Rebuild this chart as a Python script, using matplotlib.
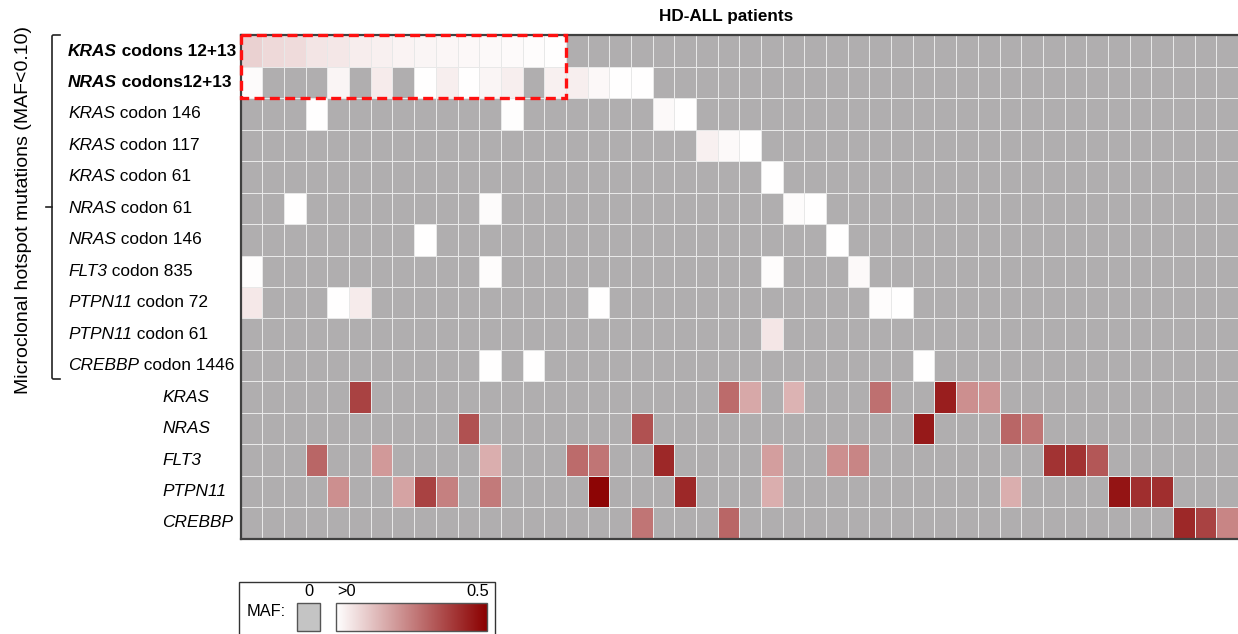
import numpy as np
import matplotlib
matplotlib.use("Agg")
import matplotlib.pyplot as plt
from matplotlib.colors import LinearSegmentedColormap
from matplotlib.patches import Rectangle
from matplotlib.transforms import blended_transform_factory, IdentityTransform

plt.rcParams['font.family'] = ['Liberation Sans', 'DejaVu Sans']

# row labels: gene (italic), rest of label, bold?
genes = ['KRAS', 'NRAS', 'KRAS', 'KRAS', 'KRAS', 'NRAS', 'NRAS', 'FLT3',
         'PTPN11', 'PTPN11', 'CREBBP', 'KRAS', 'NRAS', 'FLT3', 'PTPN11', 'CREBBP']
suffixes = [' codons 12+13', ' codons12+13', ' codon 146', ' codon 117', ' codon 61',
            ' codon 61', ' codon 146', ' codon 835', ' codon 72', ' codon 61',
            ' codon 1446', '', '', '', '', '']
bold_rows = [0, 1]
n_patients = 46

# MAF per row: {patient index: MAF}, everything else is 0 (not detected)
maf_rows = [
    {0: .09, 1: .075, 2: .072, 3: .052, 4: .047, 5: .036, 6: .03, 7: .025, 8: .02,
     9: .018, 10: .015, 11: .012, 12: .01, 13: .006, 14: .003},
    {0: .008, 4: .02, 6: .04, 8: .002, 9: .035, 10: .002, 11: .02, 12: .035,
     14: .03, 15: .035, 16: .015, 17: .003, 18: .002},
    {3: .002, 12: .004, 19: .012, 20: .002},
    {21: .03, 22: .012, 23: .003},
    {24: .003},
    {2: .002, 11: .008, 25: .008, 26: .002},
    {8: .003, 27: .002},
    {0: .004, 11: .006, 24: .006, 28: .012},
    {0: .045, 4: .002, 5: .04, 16: .002, 29: .006, 30: .002},
    {24: .05},
    {11: .003, 13: .002, 31: .002},
    {5: .37, 22: .29, 23: .17, 25: .15, 29: .28, 32: .44, 33: .22, 34: .21},
    {10: .34, 18: .34, 31: .45, 35: .3, 36: .27},
    {3: .3, 6: .2, 11: .16, 15: .29, 16: .27, 19: .42, 24: .19, 27: .22, 28: .24,
     37: .4, 38: .4, 39: .33},
    {4: .22, 7: .18, 8: .37, 9: .25, 11: .26, 16: .49, 20: .42, 24: .16, 35: .16,
     40: .46, 41: .41, 42: .41},
    {18: .27, 22: .3, 43: .42, 44: .37, 45: .24},
]

maf = np.zeros((len(genes), n_patients))
for i, row in enumerate(maf_rows):
    for j, v in row.items():
        maf[i, j] = v

W, H = 1238, 634
fig = plt.figure(figsize=(W / 100, H / 100), dpi=100)

cmap = LinearSegmentedColormap.from_list('maf', ['#ffffff', '#8b0000'])
cmap.set_under('#b0aeaf')

left, top, bottom = 240.7, 35.3, 538.7
ax = fig.add_axes([left / W, 1 - bottom / H, 1 - left / W, (bottom - top) / H])
ax.pcolormesh(maf, cmap=cmap, vmin=1e-6, vmax=0.5, edgecolors='#e8e8e8', linewidth=0.7)
ax.set_xlim(0, n_patients)
ax.set_ylim(len(genes), 0)
ax.set_xticks([])
ax.set_yticks([])
for s in ['top', 'left', 'bottom']:
    ax.spines[s].set_color('#404040')
    ax.spines[s].set_linewidth(1.6)
ax.spines['right'].set_visible(False)

# dashed box around the codon 12+13 rows
ax.add_patch(Rectangle((0, 0), 15, 2, fill=False, edgecolor='#ff1010', lw=2.4,
                       linestyle=(0, (3, 1.6)), clip_on=False, zorder=5))

# overlay in pixel coordinates for labels, bracket and legend
ov = fig.add_axes([0, 0, 1, 1], zorder=-1)
ov.set_xlim(0, W)
ov.set_ylim(H, 0)
ov.axis('off')

ov.text(726, 17, 'HD-ALL patients', ha='center', va='center', fontsize=12.3,
        fontweight='bold')

renderer = fig.canvas.get_renderer()
tr = blended_transform_factory(ov.transData, ax.transData)
for i, (g, suf) in enumerate(zip(genes, suffixes)):
    y = i + 0.5
    weight = 'bold' if i in bold_rows else 'normal'
    x0 = 68 if suf else 162
    t = ax.text(x0, y, g, transform=tr, ha='left', va='center', fontsize=12.4,
                style='italic', fontweight=weight)
    if suf:
        bb = t.get_window_extent(renderer)
        ov.text(bb.x1, y, suf,
                transform=blended_transform_factory(IdentityTransform(), ax.transData),
                ha='left', va='center', fontsize=12.4, fontweight=weight)

# bracket for microclonal rows
ov.plot([60, 53, 52, 52, 53, 60], [35, 35, 36, 378, 379, 379], color='#222222', lw=1.2)
ov.plot([46, 52], [207, 207], color='#222222', lw=1.2)
ov.text(24, 210, 'Microclonal hotspot mutations (MAF<0.10)', rotation=90,
        ha='center', va='center', fontsize=14)

# legend
ov.add_patch(Rectangle((239, 582), 256, 60, facecolor='white', edgecolor='#333333', lw=1))
ov.text(247, 611, 'MAF:', ha='left', va='center', fontsize=11.8)
ov.add_patch(Rectangle((297, 603), 23, 28, facecolor='#c4c4c4', edgecolor='#555555', lw=1))
ov.text(309, 599, '0', ha='center', va='bottom', fontsize=11.8)
grad = np.linspace(0, 1, 256)[None, :]
ov.imshow(grad, cmap=cmap, vmin=0, vmax=1, extent=(336, 487, 631, 603),
          aspect='auto', zorder=3)
ov.add_patch(Rectangle((336, 603), 151, 28, fill=False, edgecolor='#555555', lw=1, zorder=4))
ov.text(337, 599, '>0', ha='left', va='bottom', fontsize=11.8)
ov.text(489, 599, '0.5', ha='right', va='bottom', fontsize=11.8)
ov.set_xlim(0, W)
ov.set_ylim(H, 0)

fig.savefig('out.png', dpi=100)
